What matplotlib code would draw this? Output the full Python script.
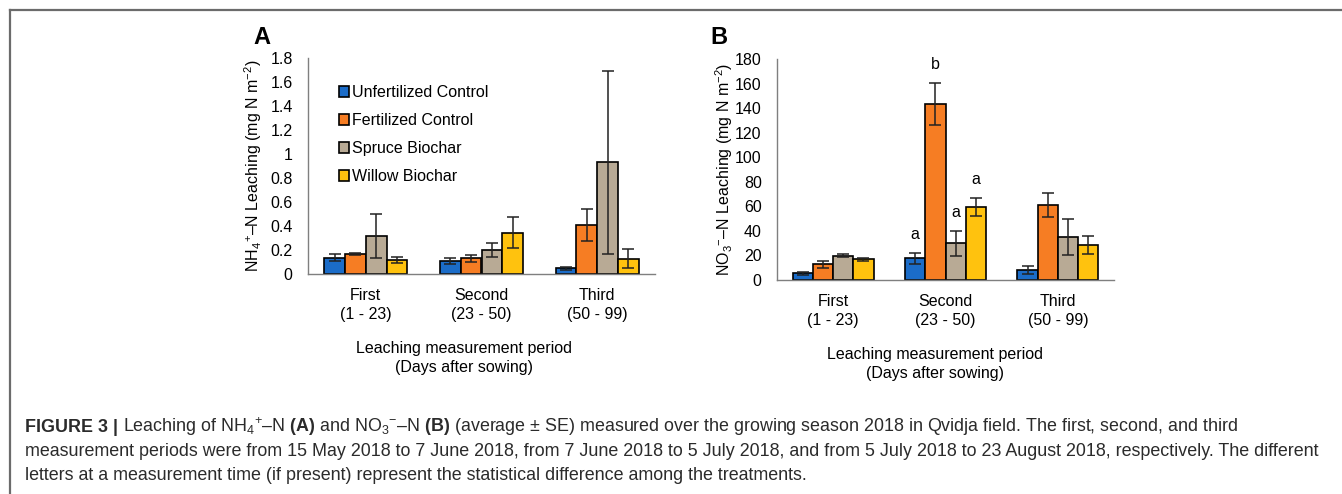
import matplotlib
matplotlib.use("Agg")
import matplotlib.pyplot as plt
import numpy as np

plt.rcParams['font.family'] = ['Liberation Sans', 'DejaVu Sans']
plt.rcParams['mathtext.fontset'] = 'custom'
plt.rcParams['mathtext.rm'] = 'Liberation Sans'
plt.rcParams['mathtext.it'] = 'Liberation Sans:italic'
plt.rcParams['mathtext.bf'] = 'Liberation Sans:bold'

periods = ["First\n(1 - 23)", "Second\n(23 - 50)", "Third\n(50 - 99)"]
treatments = ["Unfertilized Control", "Fertilized Control", "Spruce Biochar", "Willow Biochar"]
colors = ["#1b6cc8", "#f67d23", "#b8aa95", "#ffc20e"]

# Panel A: NH4+-N leaching (mg N m-2)
nh4_mean = {
    "Unfertilized Control": [0.135, 0.105, 0.047],
    "Fertilized Control":   [0.165, 0.130, 0.410],
    "Spruce Biochar":       [0.317, 0.200, 0.930],
    "Willow Biochar":       [0.120, 0.345, 0.128],
}
nh4_se = {
    "Unfertilized Control": [0.030, 0.025, 0.010],
    "Fertilized Control":   [0.010, 0.028, 0.135],
    "Spruce Biochar":       [0.183, 0.060, 0.760],
    "Willow Biochar":       [0.025, 0.130, 0.080],
}

# Panel B: NO3--N leaching (mg N m-2)
no3_mean = {
    "Unfertilized Control": [5.4, 17.6, 8.1],
    "Fertilized Control":   [12.8, 143.5, 61.0],
    "Spruce Biochar":       [19.8, 29.8, 34.7],
    "Willow Biochar":       [16.8, 59.7, 28.5],
}
no3_se = {
    "Unfertilized Control": [1.0, 4.4, 3.5],
    "Fertilized Control":   [3.0, 17.0, 9.7],
    "Spruce Biochar":       [1.2, 10.0, 14.6],
    "Willow Biochar":       [1.2, 7.4, 7.3],
}
no3_letters = {
    "Unfertilized Control": ["", "a", ""],
    "Fertilized Control":   ["", "b", ""],
    "Spruce Biochar":       ["", "a", ""],
    "Willow Biochar":       ["", "a", ""],
}

W, H = 1342, 494
fig = plt.figure(figsize=(W / 100, H / 100), dpi=100)

def px_rect(x0, y0, x1, y1):
    return [x0 / W, 1 - y1 / H, (x1 - x0) / W, (y1 - y0) / H]

# figure border (top and left lines)
fig.add_artist(plt.Line2D([9.5 / W, 9.5 / W], [0, 1 - 10.5 / H], color="#6b6b6b", lw=1.6, transform=fig.transFigure))
fig.add_artist(plt.Line2D([9.5 / W, 1], [1 - 10.5 / H, 1 - 10.5 / H], color="#6b6b6b", lw=1.6, transform=fig.transFigure))

axA = fig.add_axes(px_rect(308, 58, 655, 274))
axB = fig.add_axes(px_rect(777, 59, 1114, 280))

bw = 0.18
x = np.arange(len(periods))
offsets = (np.arange(4) - 1.5) * bw

def draw(ax, means, ses, ymax, step, fmt):
    for i, t in enumerate(treatments):
        ax.bar(x + offsets[i], means[t], width=bw, color=colors[i], edgecolor="black",
               linewidth=1.2, label=t, zorder=2)
        ax.errorbar(x + offsets[i], means[t], yerr=ses[t], fmt="none", ecolor="#222222",
                    elinewidth=1.1, capsize=4, capthick=1.1, zorder=3)
    ax.set_xlim(-0.5, 2.5)
    ax.set_ylim(0, ymax)
    ticks = np.arange(0, ymax + step / 2, step)
    ax.set_yticks(ticks)
    ax.set_yticklabels([fmt(v) for v in ticks], fontsize=11.5)
    ax.set_xticks(x)
    ax.set_xticklabels(periods, fontsize=11.5, linespacing=1.35)
    ax.tick_params(axis="both", length=0)
    ax.tick_params(axis="y", pad=11)
    ax.tick_params(axis="x", pad=10)
    for s in ["top", "right"]:
        ax.spines[s].set_visible(False)
    for s in ["left", "bottom"]:
        ax.spines[s].set_color("#7f7f7f")
        ax.spines[s].set_linewidth(1.0)

def fmtA(v):
    s = f"{v:.1f}"
    if s == "0.0":
        return "0"
    if s.endswith(".0"):
        return s[:-2]
    return s

draw(axA, nh4_mean, nh4_se, 1.8, 0.2, fmtA)
draw(axB, no3_mean, no3_se, 180, 20, lambda v: f"{int(round(v))}")

# letters in panel B
for i, t in enumerate(treatments):
    for j in range(3):
        lab = no3_letters[t][j]
        if lab:
            top = no3_mean[t][j] + no3_se[t][j]
            axB.annotate(lab, (x[j] + offsets[i], top), xytext=(0, 8), textcoords="offset points",
                         ha="center", va="bottom", fontsize=11.5)

axA.set_ylabel(r"NH$_4$$^{+}$–N Leaching (mg N m$^{-2}$)", fontsize=11.5)
axB.set_ylabel(r"NO$_3$$^{-}$–N Leaching (mg N m$^{-2}$)", fontsize=11.5)
axA.yaxis.set_label_coords(-0.127, 0.5)
axB.yaxis.set_label_coords(-0.125, 0.5)

# legend in panel A
leg = axA.legend(loc="upper left", bbox_to_anchor=(0.07, 0.905), frameon=False, fontsize=11.5,
                 handlelength=0.65, handleheight=0.65, handletextpad=0.2, labelspacing=0.82,
                 borderaxespad=0)

# x-axis titles
fig.text(464 / W, 1 - 358 / H, "Leaching measurement period\n(Days after sowing)",
         ha="center", va="center", fontsize=11.5, linespacing=1.35)
fig.text(935 / W, 1 - 364 / H, "Leaching measurement period\n(Days after sowing)",
         ha="center", va="center", fontsize=11.5, linespacing=1.35)

# panel letters
fig.text(262 / W, 1 - 37 / H, "A", ha="center", va="center", fontsize=17, fontweight="bold")
fig.text(719 / W, 1 - 37 / H, "B", ha="center", va="center", fontsize=17, fontweight="bold")

# caption
cap_color = "#2b2b2b"
cfs = 12.9
cx = 25 / W
l1 = fig.text(cx, 1 - 427 / H, "FIGURE 3 |", ha="left", va="center", fontsize=cfs, fontweight="bold", color=cap_color)
fig.canvas.draw()
bb = l1.get_window_extent()
fig.text((bb.x1 + 5) / W, 1 - 427 / H,
         r"Leaching of NH$_4$$^{+}$–N $\mathbf{(A)}$ and NO$_3$$^{-}$–N $\mathbf{(B)}$ (average ± SE) measured over the growing season 2018 in Qvidja field. The first, second, and third",
         ha="left", va="center", fontsize=cfs, color=cap_color)
fig.text(cx, 1 - 451 / H,
         "measurement periods were from 15 May 2018 to 7 June 2018, from 7 June 2018 to 5 July 2018, and from 5 July 2018 to 23 August 2018, respectively. The different",
         ha="left", va="center", fontsize=cfs, color=cap_color)
fig.text(cx, 1 - 475 / H,
         "letters at a measurement time (if present) represent the statistical difference among the treatments.",
         ha="left", va="center", fontsize=cfs, color=cap_color)

fig.savefig("out.png", dpi=100)
